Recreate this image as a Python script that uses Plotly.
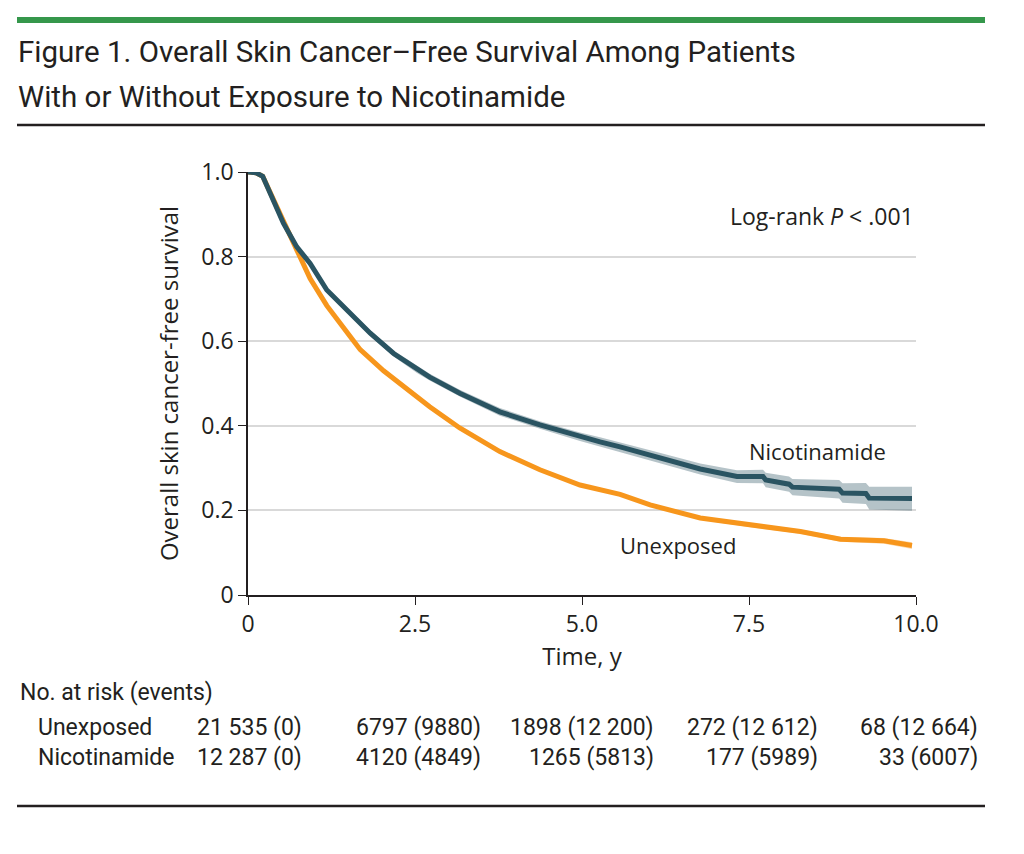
import plotly.graph_objects as go

# --- Kaplan-Meier estimates ---
t_unexp = [0, 0.12, 0.22, 0.38, 0.53, 0.73, 0.93, 1.18, 1.53, 1.68, 2.03, 2.38, 2.72,
           3.17, 3.77, 4.37, 4.97, 5.57, 6.02, 6.77, 7.52, 8.27, 8.87, 9.52, 9.94]
s_unexp = [1.0, 0.998, 0.990, 0.934, 0.879, 0.816, 0.748, 0.684, 0.611, 0.580, 0.530, 0.485, 0.445,
           0.395, 0.339, 0.296, 0.260, 0.238, 0.213, 0.182, 0.165, 0.150, 0.132, 0.128, 0.117]
lo_unexp = [1.0, 0.997, 0.988, 0.931, 0.875, 0.812, 0.744, 0.680, 0.607, 0.576, 0.526, 0.481, 0.441,
            0.391, 0.335, 0.292, 0.256, 0.234, 0.209, 0.178, 0.160, 0.145, 0.126, 0.121, 0.109]
hi_unexp = [1.0, 0.999, 0.992, 0.937, 0.883, 0.820, 0.752, 0.688, 0.615, 0.584, 0.534, 0.489, 0.449,
            0.399, 0.343, 0.300, 0.264, 0.242, 0.217, 0.186, 0.170, 0.155, 0.138, 0.135, 0.125]

t_nic = [0, 0.12, 0.22, 0.38, 0.53, 0.73, 0.93, 1.18, 1.53, 1.83, 2.18, 2.53, 2.72, 3.17,
         3.77, 4.37, 4.97, 5.27, 5.57, 6.02, 6.77, 7.32, 7.71, 7.75, 8.10, 8.15, 8.85, 8.90,
         9.25, 9.30, 9.94]
s_nic = [1.0, 0.998, 0.990, 0.934, 0.879, 0.823, 0.784, 0.721, 0.666, 0.619, 0.571, 0.533, 0.515, 0.477,
         0.433, 0.402, 0.374, 0.362, 0.350, 0.330, 0.298, 0.280, 0.280, 0.272, 0.262, 0.255, 0.250, 0.241,
         0.240, 0.229, 0.228]
lo_nic = [1.0, 0.996, 0.986, 0.929, 0.873, 0.817, 0.778, 0.715, 0.659, 0.612, 0.564, 0.525, 0.507, 0.469,
          0.424, 0.393, 0.364, 0.351, 0.339, 0.318, 0.285, 0.265, 0.264, 0.255, 0.244, 0.236, 0.228, 0.218,
          0.215, 0.202, 0.199]
hi_nic = [1.0, 1.0, 0.994, 0.939, 0.885, 0.829, 0.790, 0.727, 0.673, 0.626, 0.578, 0.541, 0.523, 0.485,
          0.442, 0.411, 0.384, 0.373, 0.361, 0.342, 0.311, 0.295, 0.296, 0.289, 0.280, 0.274, 0.272, 0.264,
          0.265, 0.256, 0.256]

# --- Number at risk table ---
risk_unexp = ["21 535 (0)", "6797 (9880)", "1898 (12 200)", "272 (12 612)", "68 (12 664)"]
risk_nic = ["12 287 (0)", "4120 (4849)", "1265 (5813)", "177 (5989)", "33 (6007)"]
risk_right_px = [304, 483, 656, 820, 980]

x_ticks = [0, 2.5, 5.0, 7.5, 10.0]
x_ticktext = ["0", "2.5", "5.0", "7.5", "10.0"]
y_ticks = [0, 0.2, 0.4, 0.6, 0.8, 1.0]
y_ticktext = ["0", "0.2", "0.4", "0.6", "0.8", "1.0"]

TEAL = "#2a5462"
TEAL_CI = "rgba(42,84,98,0.35)"
ORANGE = "#f7961c"
ORANGE_CI = "rgba(247,150,28,0.35)"
INK = "#231f20"
FONT = "Open Sans"
NARROW = "Roboto"

# plot area in page pixels; the page body adds an 8 px offset
L, R, T, B = 248, 916, 172, 595
OFF = 8
W, H = 1024, 854


def px(x):
    return (x - L) / (R - L)


def py(y):
    return (B - y) / (B - T)


fig = go.Figure()

for t, lo, hi, col in [(t_unexp, lo_unexp, hi_unexp, ORANGE_CI), (t_nic, lo_nic, hi_nic, TEAL_CI)]:
    fig.add_trace(go.Scatter(x=t, y=hi, mode="lines", line=dict(width=0), showlegend=False, hoverinfo="skip"))
    fig.add_trace(go.Scatter(x=t, y=lo, mode="lines", line=dict(width=0), fill="tonexty",
                             fillcolor=col, showlegend=False, hoverinfo="skip"))

fig.add_trace(go.Scatter(x=t_unexp, y=s_unexp, mode="lines", name="Unexposed",
                         line=dict(color=ORANGE, width=5)))
fig.add_trace(go.Scatter(x=t_nic, y=s_nic, mode="lines", name="Nicotinamide",
                         line=dict(color=TEAL, width=5)))

fig.update_layout(
    width=W, height=H,
    margin=dict(l=L - OFF, r=W - (R - OFF), t=T - OFF, b=H - (B - OFF)),
    paper_bgcolor="white", plot_bgcolor="white",
    showlegend=False,
    font=dict(family=FONT, color=INK, size=23),
)

fig.update_xaxes(
    range=[0, 10], tickvals=x_ticks, ticktext=x_ticktext,
    showline=True, linecolor=INK, linewidth=1.5, ticks="outside", ticklen=8, tickcolor=INK,
    showgrid=False, zeroline=False, tickfont=dict(size=23),
    title=dict(text="Time, y", font=dict(size=24), standoff=10),
)
fig.update_yaxes(
    range=[0, 1.0], tickvals=y_ticks, ticktext=y_ticktext,
    showline=True, linecolor=INK, linewidth=1.5, ticks="outside", ticklen=8, tickcolor=INK,
    showgrid=True, gridcolor="#d9d9d9", gridwidth=2, zeroline=False, tickfont=dict(size=23),
    title=dict(text="Overall skin cancer-free survival", font=dict(size=24), standoff=16),
)

# --- Header and rules ---
fig.add_shape(type="rect", xref="paper", yref="paper", x0=px(17), x1=px(985), y0=py(23), y1=py(17),
              fillcolor="#35974b", line_width=0)
fig.add_shape(type="line", xref="paper", yref="paper", x0=px(17), x1=px(985), y0=py(125), y1=py(125),
              line=dict(color=INK, width=2.5))
fig.add_shape(type="line", xref="paper", yref="paper", x0=px(17), x1=px(985), y0=py(806), y1=py(806),
              line=dict(color=INK, width=2.5))

fig.add_annotation(xref="paper", yref="paper", x=px(16), y=py(52), xanchor="left", yanchor="middle",
                   showarrow=False, text="Figure 1. Overall Skin Cancer–Free Survival Among Patients",
                   font=dict(family=NARROW, size=29.5, color=INK))
fig.add_annotation(xref="paper", yref="paper", x=px(16), y=py(97), xanchor="left", yanchor="middle",
                   showarrow=False, text="With or Without Exposure to Nicotinamide",
                   font=dict(family=NARROW, size=29.5, color=INK))

# --- In-plot labels ---
fig.add_annotation(x=10.0, y=0.896, xanchor="right", yanchor="middle", showarrow=False,
                   text="Log-rank <i>P</i> < .001", font=dict(size=23))
fig.add_annotation(x=8.53, y=0.34, xanchor="center", yanchor="middle", showarrow=False,
                   text="Nicotinamide", font=dict(size=22))
fig.add_annotation(x=6.44, y=0.118, xanchor="center", yanchor="middle", showarrow=False,
                   text="Unexposed", font=dict(size=22))

# --- Number at risk table ---
fig.add_annotation(xref="paper", yref="paper", x=px(18), y=py(692), xanchor="left", yanchor="middle",
                   showarrow=False, text="No. at risk (events)", font=dict(family=NARROW, size=23))
for label, row, ypix in [("Unexposed", risk_unexp, 727), ("Nicotinamide", risk_nic, 757)]:
    fig.add_annotation(xref="paper", yref="paper", x=px(36), y=py(ypix), xanchor="left", yanchor="middle",
                       showarrow=False, text=label, font=dict(family=NARROW, size=23))
    for val, xr in zip(row, risk_right_px):
        fig.add_annotation(xref="paper", yref="paper", x=px(xr), y=py(ypix), xanchor="right",
                           yanchor="middle", showarrow=False, text=val,
                           font=dict(family=NARROW, size=23))

fig.write_html("out.html")
